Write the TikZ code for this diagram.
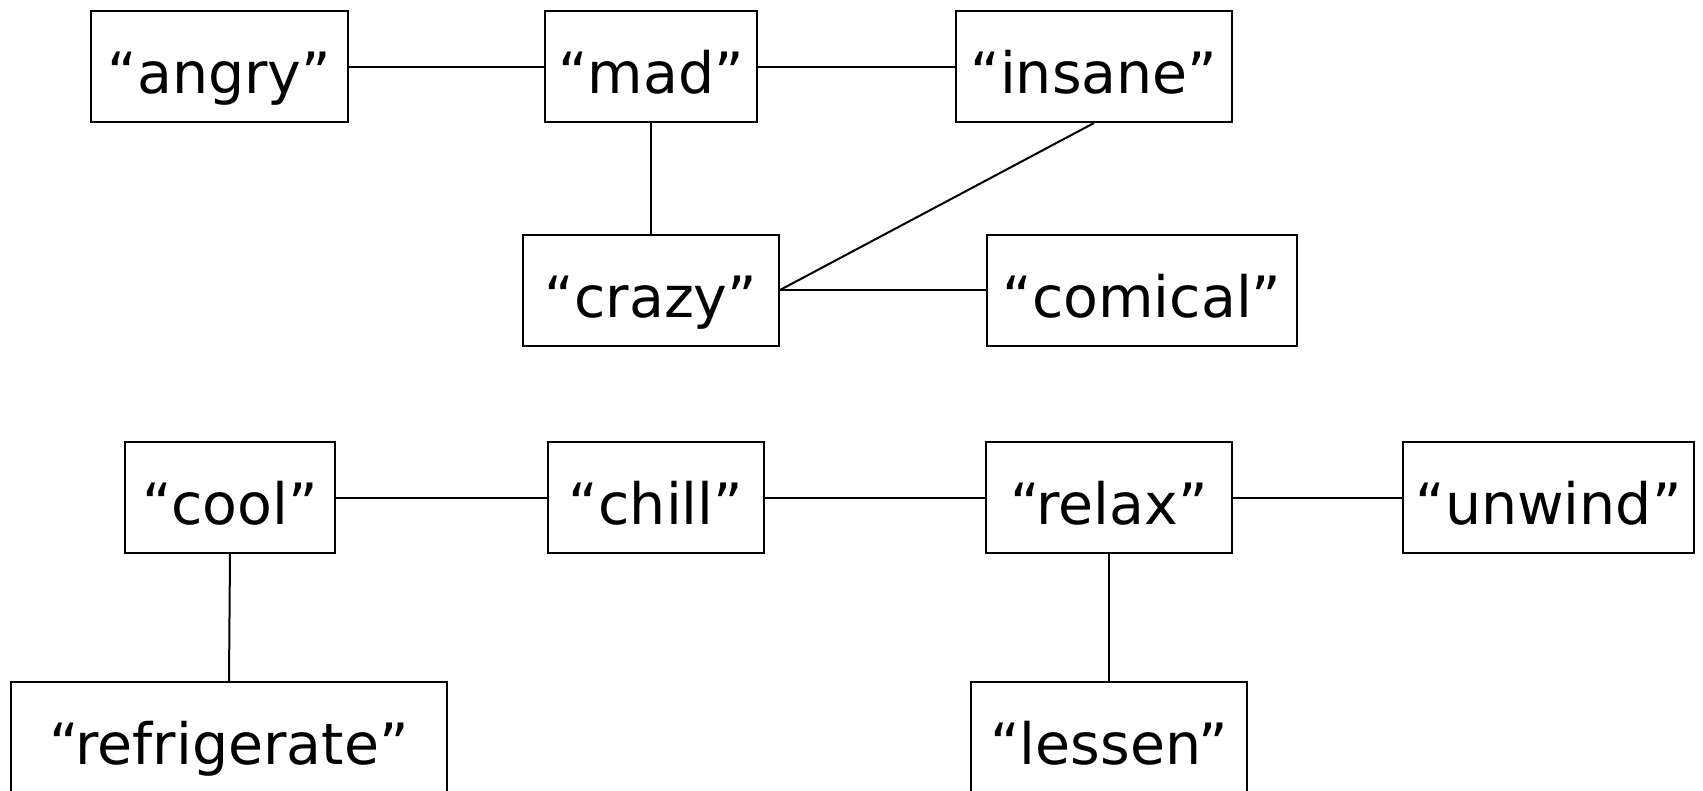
\documentclass[tikz,border=0pt]{standalone}
\usepackage{fontspec}
\setmainfont{DejaVu Sans}
\begin{document}
\begin{tikzpicture}[x=1pt,y=-1pt,
  word/.style={draw, line width=2pt, rectangle, inner sep=0pt,
    minimum height=111pt, text height=66pt, text depth=12pt,
    font=\fontsize{57}{60}\selectfont},
  link/.style={line width=2pt}]
\useasboundingbox (0,0) rectangle (1703,790);

% first group
\node[word, minimum width=257pt] (angry)   at (219.5,66.5) {“angry”};
\node[word, minimum width=212pt] (mad)     at (651,66.5)   {“mad”};
\node[word, minimum width=276pt] (insane)  at (1094,66.5)  {“insane”};
\node[word, minimum width=256pt] (crazy)   at (651,290)    {“crazy”};
\node[word, minimum width=310pt] (comical) at (1142,290)   {“comical”};

% second group
\node[word, minimum width=210pt] (cool)    at (230,497.5)  {“cool”};
\node[word, minimum width=216pt] (chill)   at (656,497.5)  {“chill”};
\node[word, minimum width=246pt] (relax)   at (1109,497.5) {“relax”};
\node[word, minimum width=291pt] (unwind)  at (1548.5,497.5) {“unwind”};
\node[word, minimum width=436pt] (refrig)  at (229,737.5)  {“refrigerate”};
\node[word, minimum width=276pt] (lessen)  at (1109,737.5) {“lessen”};

\draw[link] (angry) -- (mad);
\draw[link] (mad) -- (insane);
\draw[link] (mad) -- (crazy);
\draw[link] (insane.south) -- (crazy.east);
\draw[link] (crazy) -- (comical);

\draw[link] (cool) -- (chill);
\draw[link] (chill) -- (relax);
\draw[link] (relax) -- (unwind);
\draw[link] (cool.south) -- (refrig.north);
\draw[link] (relax) -- (lessen);
\end{tikzpicture}
\end{document}
